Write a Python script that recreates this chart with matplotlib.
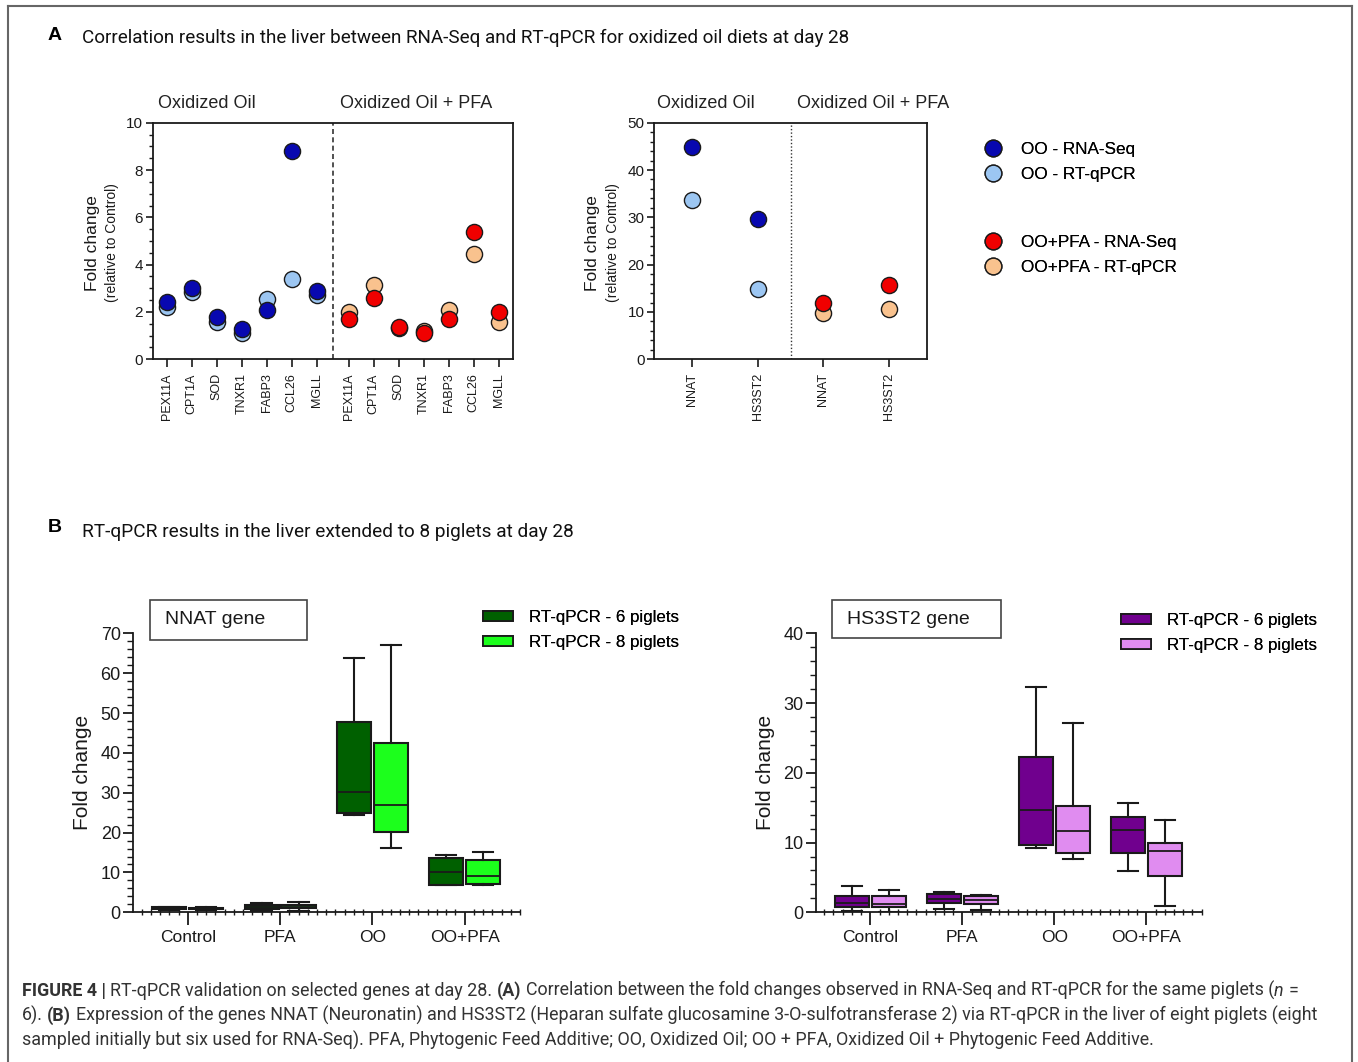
import numpy as np
import matplotlib
matplotlib.use("Agg")
import matplotlib.pyplot as plt
from matplotlib.lines import Line2D
from matplotlib.patches import Patch, Rectangle
from matplotlib.ticker import MultipleLocator

W, H = 1358, 1062

# ---- panel A data (fold change relative to control)
genes_a = ["PEX11A", "CPT1A", "SOD", "TNXR1", "FABP3", "CCL26", "MGLL"]
oo_rnaseq = [2.41, 3.01, 1.80, 1.30, 2.08, 8.80, 2.90]
oo_qpcr = [2.20, 2.85, 1.56, 1.10, 2.56, 3.41, 2.70]
pfa_rnaseq = [1.69, 2.58, 1.38, 1.10, 1.69, 5.39, 2.00]
pfa_qpcr = [2.00, 3.13, 1.32, 1.21, 2.07, 4.46, 1.59]

genes_b = ["NNAT", "HS3ST2"]
oo_rnaseq_b = [44.8, 29.6]
oo_qpcr_b = [33.7, 14.9]
pfa_rnaseq_b = [12.0, 15.6]
pfa_qpcr_b = [9.7, 10.6]

# ---- panel B data, box stats per group: (whislo, q1, med, q3, whishi)
groups = ["Control", "PFA", "OO", "OO+PFA"]
nnat_6 = [(0.6, 0.75, 1.0, 1.25, 1.4), (0.3, 0.75, 1.3, 1.9, 2.4),
          (24.5, 25.0, 30.2, 47.7, 63.9), (6.8, 6.9, 10.2, 13.5, 14.4)]
nnat_8 = [(0.6, 0.75, 1.0, 1.2, 1.35), (0.4, 1.0, 1.3, 1.75, 2.6),
          (16.2, 20.1, 26.9, 42.4, 67.1), (6.9, 7.2, 9.1, 13.0, 15.1)]
hs3_6 = [(0.25, 0.7, 1.4, 2.35, 3.8), (0.45, 1.35, 1.9, 2.6, 2.9),
         (9.2, 9.65, 14.7, 22.2, 32.3), (5.9, 8.45, 11.8, 13.7, 15.7)]
hs3_8 = [(0.1, 0.8, 1.2, 2.3, 3.25), (0.35, 1.2, 1.7, 2.3, 2.45),
         (7.7, 8.55, 11.7, 15.2, 27.1), (0.9, 5.25, 8.8, 9.9, 13.2)]

dark_blue, light_blue = "#0808b0", "#9cc6f2"
red, peach = "#f00000", "#f9c28e"
dark_green, light_green = "#006000", "#1cff1c"
dark_purple, light_purple = "#70008e", "#e08cf0"
ink = "#1a1a1a"

plt.rcParams["font.family"] = ["Liberation Sans", "DejaVu Sans"]
fig = plt.figure(figsize=(W / 100, H / 100), dpi=100)


def fx(x):
    return x / W


def fy(y):
    return 1 - y / H


def box_axes(x0, y0, x1, y1):
    return fig.add_axes([fx(x0), fy(y1), (x1 - x0) / W, (y1 - y0) / H])


# frame
for xs, ys in [([8, 8], [6, 1062]), ([8, 1352], [6, 6]), ([1352, 1352], [6, 1062])]:
    fig.add_artist(Line2D([fx(v) for v in xs], [fy(v) for v in ys], color="#666666", lw=1.5))


def style_a(ax):
    for s in ax.spines.values():
        s.set_linewidth(1.3)
        s.set_color(ink)
    ax.tick_params(axis="y", which="major", length=5, width=1.2, labelsize=11, pad=2, colors=ink)
    ax.tick_params(axis="y", which="minor", length=3, width=1.0, colors=ink)
    ax.tick_params(axis="x", length=6, width=1.2, labelsize=9, pad=4, colors=ink)


def scatter_pair(ax, x, light, dark, cl, cd):
    ax.scatter(x, light, s=135, c=cl, edgecolors=ink, linewidths=1, zorder=3, clip_on=False)
    ax.scatter(x, dark, s=135, c=cd, edgecolors=ink, linewidths=1, zorder=4, clip_on=False)


# ---- panel A left
pos_a = np.r_[np.arange(7), np.arange(7) + 7.28]
ax1 = box_axes(152.7, 122.7, 512.7, 359.3)
scatter_pair(ax1, pos_a[:7], oo_qpcr, oo_rnaseq, light_blue, dark_blue)
scatter_pair(ax1, pos_a[7:], pfa_qpcr, pfa_rnaseq, peach, red)
ax1.axvline(6.64, color="#333333", lw=1.2, ls=(0, (3, 2)))
ax1.set_xlim(-0.56, 13.84)
ax1.set_ylim(0, 10)
ax1.yaxis.set_major_locator(MultipleLocator(2))
ax1.yaxis.set_minor_locator(MultipleLocator(0.5))
ax1.set_xticks(pos_a)
ax1.set_xticklabels(genes_a * 2, rotation=90)
style_a(ax1)

# ---- panel A right
pos_b = np.arange(4)
ax2 = box_axes(654.3, 122.7, 926.7, 359.3)
scatter_pair(ax2, pos_b[:2], oo_qpcr_b, oo_rnaseq_b, light_blue, dark_blue)
scatter_pair(ax2, pos_b[2:], pfa_qpcr_b, pfa_rnaseq_b, peach, red)
ax2.axvline(1.5, color="#333333", lw=1.0, ls=(0, (1, 1.5)))
ax2.set_xlim(-0.57, 3.57)
ax2.set_ylim(0, 50)
ax2.yaxis.set_major_locator(MultipleLocator(10))
ax2.yaxis.set_minor_locator(MultipleLocator(2))
ax2.set_xticks(pos_b)
ax2.set_xticklabels(genes_b * 2, rotation=90)
style_a(ax2)

for cx, lab in [(207, "Oxidized Oil"), (416, "Oxidized Oil + PFA"),
                (706, "Oxidized Oil"), (873, "Oxidized Oil + PFA")]:
    fig.text(fx(cx), fy(103), lab, ha="center", va="center", fontsize=13, color="#222222")
for x0 in (92, 593):
    fig.text(fx(x0), fy(243), "Fold change", rotation=90, ha="center", va="center", fontsize=12.5, color=ink)
    fig.text(fx(x0 + 20), fy(243), "(relative to Control)", rotation=90, ha="center", va="center",
             fontsize=10, color=ink)

mk = dict(marker="o", ls="none", markersize=12, markeredgecolor=ink, markeredgewidth=1)
leg_kw = dict(loc="upper left", frameon=False, fontsize=12.3, handlelength=1.2, handletextpad=1.0,
              labelspacing=0.6, borderpad=0, borderaxespad=0)
leg1 = fig.legend([Line2D([], [], markerfacecolor=dark_blue, **mk), Line2D([], [], markerfacecolor=light_blue, **mk)],
                  ["OO - RNA-Seq", "OO - RT-qPCR"], bbox_to_anchor=(fx(983), fy(142)), **leg_kw)
fig.add_artist(leg1)
leg2 = fig.legend([Line2D([], [], markerfacecolor=red, **mk), Line2D([], [], markerfacecolor=peach, **mk)],
                  ["OO+PFA - RNA-Seq", "OO+PFA - RT-qPCR"], bbox_to_anchor=(fx(983), fy(235)), **leg_kw)
fig.add_artist(leg2)


# ---- panel B
def to_stats(rows):
    return [dict(whislo=r[0], q1=r[1], med=r[2], q3=r[3], whishi=r[4], fliers=[]) for r in rows]


def boxes(ax, rows, offset, color):
    ax.bxp(to_stats(rows), positions=np.arange(len(rows)) + offset, widths=0.37, capwidths=0.22,
           patch_artist=True, showfliers=False, manage_ticks=False,
           boxprops=dict(facecolor=color, edgecolor=ink, linewidth=1.5),
           medianprops=dict(color=ink, linewidth=1.3),
           whiskerprops=dict(color=ink, linewidth=1.5),
           capprops=dict(color=ink, linewidth=1.5))


def style_b(ax, top, major):
    ax.set_xlim(-0.59, 3.6)
    ax.set_ylim(0, top)
    for s in ("top", "right"):
        ax.spines[s].set_visible(False)
    for s in ("left", "bottom"):
        ax.spines[s].set_linewidth(1.3)
        ax.spines[s].set_color(ink)
    ax.yaxis.set_major_locator(MultipleLocator(major))
    ax.yaxis.set_minor_locator(MultipleLocator(2))
    ax.set_xticks(np.arange(len(groups)))
    ax.set_xticklabels(groups)
    ax.xaxis.set_minor_locator(MultipleLocator(0.1))
    ax.tick_params(axis="y", which="major", length=7, width=1.3, labelsize=13, pad=2, colors=ink)
    ax.tick_params(axis="y", which="minor", length=4, width=1.0, colors=ink)
    ax.tick_params(axis="x", which="major", length=9, width=1.3, labelsize=12.5, pad=4, colors=ink)
    ax.tick_params(axis="x", which="minor", length=4, width=1.0, direction="inout", colors=ink)
    ax.set_ylabel("Fold change", fontsize=15, color=ink, labelpad=6)


ax3 = box_axes(133.3, 633.3, 520, 912.3)
boxes(ax3, nnat_6, -0.2, dark_green)
boxes(ax3, nnat_8, 0.2, light_green)
style_b(ax3, 70, 10)

ax4 = box_axes(816, 633.3, 1201.7, 912.3)
boxes(ax4, hs3_6, -0.2, dark_purple)
boxes(ax4, hs3_8, 0.2, light_purple)
style_b(ax4, 40, 10)

for (x0, y0, x1, y1), lab in [((150, 600, 307, 640), "NNAT gene"), ((832, 600, 1001, 638), "HS3ST2 gene")]:
    fig.add_artist(Rectangle((fx(x0), fy(y1)), (x1 - x0) / W, (y1 - y0) / H, transform=fig.transFigure,
                             facecolor="white", edgecolor="#444444", lw=1.2))
    fig.text(fx(x0 + 15), fy((y0 + y1) / 2), lab, ha="left", va="center", fontsize=14, color=ink)

pk = dict(edgecolor=ink, linewidth=1.3)
for (c6, c8), x0, y0 in [((dark_green, light_green), 483, 610), ((dark_purple, light_purple), 1121, 613)]:
    leg = fig.legend([Patch(facecolor=c6, **pk), Patch(facecolor=c8, **pk)],
                     ["RT-qPCR - 6 piglets", "RT-qPCR - 8 piglets"], loc="upper left",
                     bbox_to_anchor=(fx(x0), fy(y0)), frameon=False, fontsize=12.2,
                     handlelength=1.75, handleheight=0.55, handletextpad=0.95, labelspacing=0.6,
                     borderpad=0, borderaxespad=0)
    fig.add_artist(leg)

# ---- titles
fig.text(fx(48), fy(35), "A", fontsize=14, weight="bold", ha="left", va="center", color="black")
fig.text(fx(48), fy(527), "B", fontsize=14, weight="bold", ha="left", va="center", color="black")
renderer = fig.canvas.get_renderer()


def fit_size(text, family, target, weight="normal"):
    t = fig.text(0, 0, text, fontsize=12, family=family, weight=weight)
    w = t.get_window_extent(renderer=renderer).width
    t.remove()
    return 12 * target / w


tf = ["Roboto", "DejaVu Sans"]
title_a = "Correlation results in the liver between RNA-Seq and RT-qPCR for oxidized oil diets at day 28"
title_b = "RT-qPCR results in the liver extended to 8 piglets at day 28"
fig.text(fx(82), fy(38), title_a, fontsize=fit_size(title_a, tf, 768), family=tf, ha="left", va="center",
         color="#111111")
fig.text(fx(82), fy(532), title_b, fontsize=fit_size(title_b, tf, 488), family=tf, ha="left", va="center",
         color="#111111")

# ---- caption
cap_lines = [
    [("FIGURE 4 |", "bold", "normal"), (" RT-qPCR validation on selected genes at day 28. ", "normal", "normal"),
     ("(A)", "bold", "normal"),
     (" Correlation between the fold changes observed in RNA-Seq and RT-qPCR for the same piglets (", "normal", "normal"),
     ("n", "normal", "italic"), (" =", "normal", "normal")],
    [("6). ", "normal", "normal"), ("(B)", "bold", "normal"),
     (" Expression of the genes NNAT (Neuronatin) and HS3ST2 (Heparan sulfate glucosamine 3-O-sulfotransferase 2)"
      " via RT-qPCR in the liver of eight piglets (eight", "normal", "normal")],
    [("sampled initially but six used for RNA-Seq). PFA, Phytogenic Feed Additive; OO, Oxidized Oil; "
      "OO + PFA, Oxidized Oil + Phytogenic Feed Additive.", "normal", "normal")],
]
cap_targets = [1318, 1296, 1171]
cap_color = "#333333"


def width_of(s, size, weight, style):
    t = fig.text(0, 0, s, fontsize=size, family=tf, weight=weight, style=style)
    w = t.get_window_extent(renderer=renderer).width
    t.remove()
    return w


def line_width(chunks, size):
    sp = width_of("a a", size, "normal", "normal") - width_of("aa", size, "normal", "normal")
    total = 0
    for s, w, st in chunks:
        core = s.strip()
        total += (len(s) - len(s.lstrip())) * sp + width_of(core, size, w, st) + (len(s) - len(s.rstrip())) * sp
    return total, sp


cap_size = min(12 * tw / line_width(ch, 12)[0] for ch, tw in zip(cap_lines, cap_targets))
for chunks, yb in zip(cap_lines, [996, 1021, 1046]):
    _, sp = line_width(chunks, cap_size)
    x = 22
    for s, w, st in chunks:
        x += (len(s) - len(s.lstrip())) * sp
        core = s.strip()
        fig.text(fx(x), fy(yb), core, fontsize=cap_size, family=tf, weight=w, style=st, color=cap_color,
                 ha="left", va="baseline")
        x += width_of(core, cap_size, w, st) + (len(s) - len(s.rstrip())) * sp

fig.savefig("out.png", dpi=100, facecolor="white")
